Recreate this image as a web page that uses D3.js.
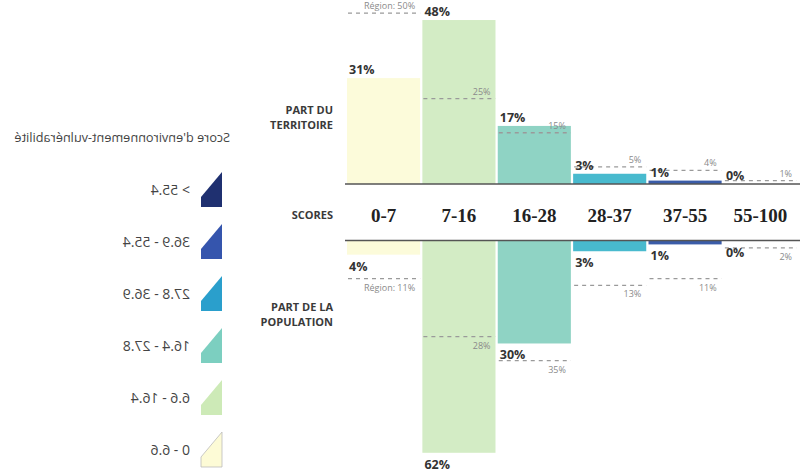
<!DOCTYPE html>
<html>
<head>
<meta charset="utf-8">
<script src="https://cdn.jsdelivr.net/npm/d3@7"></script>
<style>
  html, body { margin: 0; padding: 0; background: #fff; }
  svg { display: block; }
</style>
</head>
<body>
<svg id="chart" width="805" height="475"></svg>
<script>
// Score classes and shares (in %)
const categories = ["0-7", "7-16", "16-28", "28-37", "37-55", "55-100"];
const territoryShare = [31, 48, 17, 3, 1, 0];
const territoryRegion = [50, 25, 15, 5, 4, 1];
const populationShare = [4, 62, 30, 3, 1, 0];
const populationRegion = [11, 28, 35, 13, 11, 2];
const barColors = ["#fcfbda", "#d3ecc5", "#8fd3c4", "#48bace", "#3b5ca8", "#1f3070"];

// Legend classes
const legendLabels = ["> 55.4", "36.9 - 55.4", "27.8 - 36.9", "16.4 - 27.8", "6.6 - 16.4", "0 - 6.6"];
const legendColors = ["#1f3070", "#3555ad", "#2a9fcc", "#7ccfc0", "#cdeab7", "#fdfbd6"];
const legendTitle = "Score d'environnement-vulnérabilité";

const svg = d3.select("#chart");

const x = d3.scaleBand().domain(categories).range([347, 797]).paddingInner(0.03);
const h = d3.scaleLinear().domain([0, 50]).range([0, 170.8]);

const topBase = 184;
const botBase = 241;

const rows = categories.map((c, i) => ({
  c, i,
  t: territoryShare[i], tr: territoryRegion[i],
  p: populationShare[i], pr: populationRegion[i],
  color: barColors[i]
}));

// Territory bars (upwards)
svg.append("g").selectAll("rect").data(rows).join("rect")
  .attr("x", d => x(d.c))
  .attr("width", x.bandwidth())
  .attr("y", d => topBase - h(d.t))
  .attr("height", d => h(d.t))
  .attr("fill", d => d.color);

// Population bars (downwards)
svg.append("g").selectAll("rect").data(rows).join("rect")
  .attr("x", d => x(d.c))
  .attr("width", x.bandwidth())
  .attr("y", botBase)
  .attr("height", d => h(d.p))
  .attr("fill", d => d.color);

// Axis lines
[topBase, botBase - 0.5].forEach(yy => {
  svg.append("line")
    .attr("x1", 345).attr("x2", 800)
    .attr("y1", yy).attr("y2", yy)
    .attr("stroke", "#555").attr("stroke-width", 1.6);
});

// Regional reference lines
const dash = g => g.attr("stroke", "#9a9a9a").attr("stroke-width", 1.3).attr("stroke-dasharray", "4,4");
svg.append("g").selectAll("line").data(rows).join("line")
  .attr("x1", d => x(d.c) + 1).attr("x2", d => x(d.c) + x.bandwidth())
  .attr("y1", d => topBase - h(d.tr)).attr("y2", d => topBase - h(d.tr))
  .call(dash);
svg.append("g").selectAll("line").data(rows).join("line")
  .attr("x1", d => x(d.c) + 1).attr("x2", d => x(d.c) + x.bandwidth())
  .attr("y1", d => botBase + h(d.pr)).attr("y2", d => botBase + h(d.pr))
  .call(dash);

const regionText = (d, v) => (d.i === 0 ? "Région: " : "") + v + "%";

svg.append("g").selectAll("text").data(rows).join("text")
  .attr("x", d => x(d.c) + x.bandwidth() - 5)
  .attr("y", d => topBase - h(d.tr) - 4)
  .attr("text-anchor", "end")
  .attr("font-family", "Open Sans, sans-serif").attr("font-size", 9)
  .attr("fill", "#8a8a8a")
  .text(d => regionText(d, d.tr));

svg.append("g").selectAll("text").data(rows).join("text")
  .attr("x", d => x(d.c) + x.bandwidth() - 5)
  .attr("y", d => botBase + h(d.pr) + 12)
  .attr("text-anchor", "end")
  .attr("font-family", "Open Sans, sans-serif").attr("font-size", 9)
  .attr("fill", "#8a8a8a")
  .text(d => regionText(d, d.pr));

// Value labels
svg.append("g").selectAll("text").data(rows).join("text")
  .attr("x", d => x(d.c) + 2)
  .attr("y", d => topBase - h(d.t) - 4)
  .attr("font-family", "Open Sans, sans-serif").attr("font-size", 12.5).attr("font-weight", 700)
  .attr("fill", "#333")
  .text(d => d.t + "%");

svg.append("g").selectAll("text").data(rows).join("text")
  .attr("x", d => x(d.c) + 2)
  .attr("y", d => botBase + h(d.p) + 16)
  .attr("font-family", "Open Sans, sans-serif").attr("font-size", 12.5).attr("font-weight", 700)
  .attr("fill", "#333")
  .text(d => d.p + "%");

// Score class labels
svg.append("g").selectAll("text").data(rows).join("text")
  .attr("x", d => x(d.c) + x.bandwidth() / 2)
  .attr("y", 222)
  .attr("text-anchor", "middle")
  .attr("font-family", "Liberation Serif, serif").attr("font-size", 19).attr("font-weight", 700)
  .attr("fill", "#222")
  .text(d => d.c);

// Row titles
const rowTitles = [
  { lines: ["PART DU", "TERRITOIRE"], y: 114 },
  { lines: ["SCORES"], y: 219 },
  { lines: ["PART DE LA", "POPULATION"], y: 311 }
];
rowTitles.forEach(r => {
  r.lines.forEach((t, k) => {
    svg.append("text")
      .attr("x", 333).attr("y", r.y + k * 15)
      .attr("text-anchor", "end")
      .attr("font-family", "Open Sans, sans-serif").attr("font-size", 11).attr("font-weight", 700)
      .attr("fill", "#3a3a3a")
      .text(t);
  });
});

// Legend (drawn mirrored)
const legend = svg.append("g").attr("transform", "translate(232,0) scale(-1,1)");
legend.append("text")
  .attr("x", 2).attr("y", 142)
  .attr("font-family", "Open Sans, sans-serif").attr("font-size", 12.7)
  .attr("fill", "#444")
  .text(legendTitle);

const ly = d3.scalePoint().domain(legendLabels).range([190, 450]);
const items = legend.selectAll("g.item").data(legendLabels).join("g").attr("class", "item")
  .attr("transform", d => `translate(0,${ly(d)})`);
items.append("path")
  .attr("d", "M10,-18 L31,7 L31,17 L10,17 Z")
  .attr("fill", (d, i) => legendColors[i])
  .attr("stroke", (d, i) => i === 5 ? "#bbb" : "none")
  .attr("stroke-width", 0.8);
items.append("text")
  .attr("x", 42).attr("y", 5)
  .attr("font-family", "Open Sans, sans-serif").attr("font-size", 14)
  .attr("fill", "#444")
  .text(d => d);
</script>
</body>
</html>
